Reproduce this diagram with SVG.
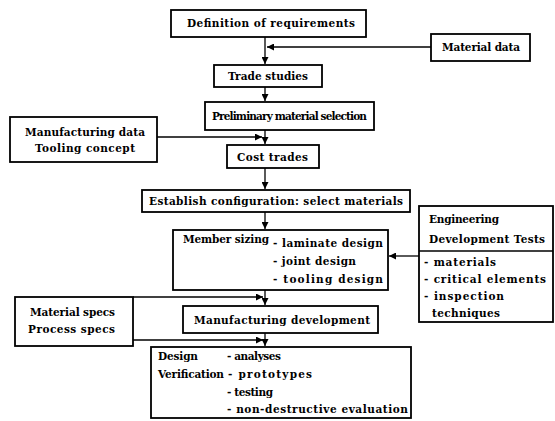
<svg xmlns="http://www.w3.org/2000/svg" width="555" height="421" viewBox="0 0 555 421">
<style>
.b{fill:#fff;stroke:#000;stroke-width:1.8}
.t{font-family:"DejaVu Serif","Liberation Serif",serif;font-weight:bold;font-size:10.5px;fill:#000}
.c{fill:none;stroke:#000;stroke-width:1.3}
</style>
<defs>
<marker id="a" viewBox="0 0 10 10" refX="10" refY="5" markerWidth="7" markerHeight="7" markerUnits="userSpaceOnUse" orient="auto">
<path d="M0,0 L10,5 L0,10 z" fill="#000"/>
</marker>
</defs>
<rect width="555" height="421" fill="#fff"/>
<g id="connectors">
<line class="c" x1="265" y1="37" x2="265" y2="64" marker-end="url(#a)"/>
<line class="c" x1="431" y1="47" x2="267" y2="47" marker-end="url(#a)"/>
<line class="c" x1="265" y1="87" x2="265" y2="101" marker-end="url(#a)"/>
<line class="c" x1="265" y1="130" x2="265" y2="144" marker-end="url(#a)"/>
<line class="c" x1="157" y1="137" x2="262" y2="137" marker-end="url(#a)"/>
<line class="c" x1="265" y1="168" x2="265" y2="189" marker-end="url(#a)"/>
<line class="c" x1="265" y1="212" x2="265" y2="229" marker-end="url(#a)"/>
<line class="c" x1="419" y1="256" x2="389" y2="256" marker-end="url(#a)"/>
<line class="c" x1="265" y1="290" x2="265" y2="305" marker-end="url(#a)"/>
<line class="c" x1="133" y1="297" x2="263" y2="297" marker-end="url(#a)"/>
<line class="c" x1="265" y1="333" x2="265" y2="346" marker-end="url(#a)"/>
<line class="c" x1="133" y1="340" x2="263" y2="340" marker-end="url(#a)"/>
</g>
<g id="n1"><rect class="b" x="171" y="10" width="195" height="27"/><text class="t" x="187" y="27" textLength="168" lengthAdjust="spacing">Definition of requirements</text></g>
<g id="n2"><rect class="b" x="431" y="34" width="99" height="27"/><text class="t" x="442" y="51" textLength="78" lengthAdjust="spacing">Material data</text></g>
<g id="n3"><rect class="b" x="214" y="65" width="108" height="22"/><text class="t" x="228" y="80" textLength="80" lengthAdjust="spacing">Trade studies</text></g>
<g id="n4"><rect class="b" x="205" y="102" width="169" height="28"/><text class="t" x="212" y="120" textLength="155" lengthAdjust="spacing">Preliminary material selection</text></g>
<g id="n5"><rect class="b" x="10" y="117" width="147" height="45"/><text class="t" x="25" y="136" textLength="120" lengthAdjust="spacing">Manufacturing data</text><text class="t" x="35" y="152" textLength="100" lengthAdjust="spacing">Tooling concept</text></g>
<g id="n6"><rect class="b" x="227" y="145" width="92" height="23"/><text class="t" x="237" y="161" textLength="71" lengthAdjust="spacing">Cost trades</text></g>
<g id="n7"><rect class="b" x="142" y="190" width="268" height="22"/><text class="t" x="149" y="205" textLength="254" lengthAdjust="spacing">Establish configuration: select materials</text></g>
<g id="n8"><rect class="b" x="173" y="230" width="215" height="60"/><text class="t" x="183" y="243" textLength="86" lengthAdjust="spacing">Member sizing</text><text class="t" x="273" y="247" textLength="110" lengthAdjust="spacing">- laminate design</text><text class="t" x="273" y="265" textLength="83" lengthAdjust="spacing">- joint design</text><text class="t" x="273" y="283" textLength="110" lengthAdjust="spacing">- tooling design</text></g>
<g id="n9"><rect class="b" x="419" y="206" width="134" height="116"/><line class="c" x1="419" y1="251" x2="553" y2="251"/><text class="t" x="429" y="223" textLength="70" lengthAdjust="spacing">Engineering</text><text class="t" x="429" y="243" textLength="116" lengthAdjust="spacing">Development Tests</text><text class="t" x="424" y="266" textLength="72" lengthAdjust="spacing">- materials</text><text class="t" x="424" y="283" textLength="122" lengthAdjust="spacing">- critical elements</text><text class="t" x="424" y="300" textLength="80" lengthAdjust="spacing">- inspection</text><text class="t" x="432" y="317" textLength="68" lengthAdjust="spacing">techniques</text></g>
<g id="n10"><rect class="b" x="15" y="297" width="118" height="49"/><text class="t" x="30" y="316" textLength="85" lengthAdjust="spacing">Material specs</text><text class="t" x="28" y="333" textLength="87" lengthAdjust="spacing">Process specs</text></g>
<g id="n11"><rect class="b" x="183" y="306" width="195" height="27"/><text class="t" x="194" y="324" textLength="176" lengthAdjust="spacing">Manufacturing development</text></g>
<g id="n12"><rect class="b" x="151" y="347" width="260" height="71"/><text class="t" x="158" y="360" textLength="40" lengthAdjust="spacing">Design</text><text class="t" x="158" y="378" textLength="66" lengthAdjust="spacing">Verification</text><text class="t" x="227" y="360" textLength="54" lengthAdjust="spacing">- analyses</text><text class="t" x="228" y="378" textLength="84" lengthAdjust="spacing">- prototypes</text><text class="t" x="227" y="396" textLength="46" lengthAdjust="spacing">- testing</text><text class="t" x="227" y="413" textLength="181" lengthAdjust="spacing">- non-destructive evaluation</text></g>
</svg>
